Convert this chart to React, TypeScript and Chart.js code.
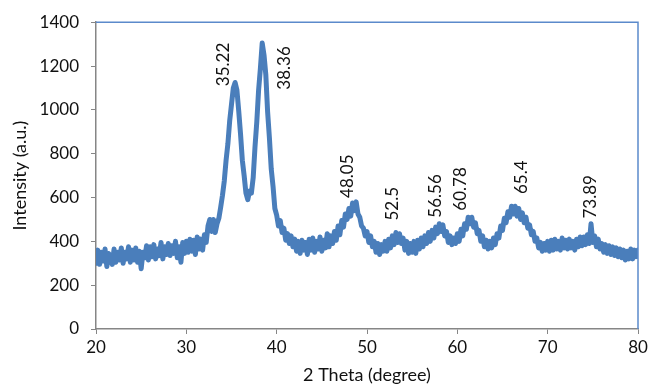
import React, { useEffect, useRef } from "react";
import { Chart, registerables } from "chart.js";

Chart.register(...registerables);

// Sampling grid of the scan (degrees)
const scanStart = 20;
const scanStep = 0.2;

// Intensity readings (a.u.) every 0.2 degree from 20.0 to 80.0
const intensity: number[] = [
  // 20.0 - 21.8
  300, 360, 295, 350, 310, 365, 285, 345, 330, 295,
  // 22.0 - 23.8
  365, 305, 350, 315, 370, 300, 350, 320, 375, 305,
  // 24.0 - 25.8
  360, 315, 370, 305, 355, 275, 350, 325, 380, 315,
  // 26.0 - 27.8
  375, 330, 385, 320, 365, 335, 395, 320, 375, 340,
  // 28.0 - 29.8
  390, 335, 380, 345, 400, 325, 375, 305, 395, 345,
  // 30.0 - 31.8
  400, 350, 410, 355, 405, 340, 420, 365, 410, 360,
  // 32.0 - 33.8
  430, 395, 470, 500, 445, 500, 440, 480, 505, 555,
  // 34.0 - 35.8
  610, 675, 770, 845, 950, 1025, 1100, 1125, 1090, 995,
  // 36.0 - 37.8
  890, 770, 700, 620, 590, 630, 620, 690, 830, 945,
  // 38.0 - 39.8
  1090, 1190, 1305, 1250, 1160, 990, 870, 730, 650, 550,
  // 40.0 - 41.8
  520, 470, 495, 440, 460, 405, 435, 390, 425, 375,
  // 42.0 - 43.8
  410, 355, 400, 345, 405, 360, 395, 340, 410, 360,
  // 44.0 - 45.8
  415, 350, 400, 365, 420, 355, 405, 370, 435, 375,
  // 46.0 - 47.8
  425, 390, 445, 405, 470, 430, 495, 465, 525, 500,
  // 48.0 - 49.8
  550, 515, 575, 540, 580, 525, 510, 470, 460, 425,
  // 50.0 - 51.8
  445, 395, 425, 375, 400, 350, 390, 340, 385, 355,
  // 52.0 - 53.8
  400, 355, 410, 370, 425, 385, 440, 395, 435, 390,
  // 54.0 - 55.8
  415, 360, 400, 345, 390, 350, 400, 345, 405, 365,
  // 56.0 - 57.8
  415, 375, 425, 390, 440, 400, 450, 415, 465, 435,
  // 58.0 - 59.8
  480, 445, 475, 425, 445, 395, 425, 385, 415, 390,
  // 60.0 - 61.8
  435, 400, 455, 425, 480, 455, 510, 480, 510, 465,
  // 62.0 - 63.8
  485, 435, 450, 400, 425, 375, 405, 365, 400, 370,
  // 64.0 - 65.8
  415, 385, 435, 415, 470, 450, 505, 485, 535, 510,
  // 66.0 - 67.8
  560, 525, 560, 515, 550, 500, 530, 485, 510, 460,
  // 68.0 - 69.8
  475, 430, 445, 400, 415, 370, 395, 355, 390, 360,
  // 70.0 - 71.8
  400, 355, 405, 360, 410, 365, 400, 360, 415, 370,
  // 72.0 - 73.8
  405, 365, 410, 370, 400, 360, 410, 375, 420, 380,
  // 74.0 - 75.8
  420, 385, 430, 390, 480, 395, 425, 375, 410, 365,
  // 76.0 - 77.8
  390, 350, 385, 345, 380, 340, 375, 335, 370, 330,
  // 78.0 - 79.8
  365, 325, 360, 315, 355, 320, 365, 320, 360, 330,
  // 80.0
  360,
];

// Peak annotations
const peakLabels = ["35.22", "38.36", "48.05", "52.5", "56.56", "60.78", "65.4", "73.89"];
const peakLabelX = [34.17, 40.92, 47.79, 52.77, 57.53, 60.3, 67.16, 74.69];
const peakLabelY = [1108, 1092, 598, 495, 508, 540, 616, 504];

const xTicks = [20, 30, 40, 50, 60, 70, 80];
const yTicks = [0, 200, 400, 600, 800, 1000, 1200, 1400];

const FONT = "Lato, 'Open Sans', sans-serif";
const LINE_COLOR = "#4A7EBB";
const AXIS_COLOR = "#868686";
const TEXT_COLOR = "#111";

const peakLabelPlugin = {
  id: "peakLabels",
  afterDatasetsDraw(chart: any) {
    const { ctx, scales } = chart;
    const xs = scales.x;
    const ys = scales.y;
    ctx.save();
    ctx.font = `17px ${FONT}`;
    ctx.fillStyle = TEXT_COLOR;
    ctx.textAlign = "left";
    ctx.textBaseline = "middle";
    peakLabels.forEach((t, i) => {
      const px = xs.getPixelForValue(peakLabelX[i]);
      const py = ys.getPixelForValue(peakLabelY[i]);
      ctx.save();
      ctx.translate(px, py);
      ctx.rotate(-Math.PI / 2);
      ctx.fillText(t, 0, 0);
      ctx.restore();
    });
    ctx.restore();
  },
};

const frameTopRightPlugin = {
  id: "frameTopRight",
  afterDraw(chart: any) {
    const { ctx, chartArea } = chart;
    ctx.save();
    ctx.strokeStyle = "#5B8ACB";
    ctx.lineWidth = 1.5;
    ctx.beginPath();
    ctx.moveTo(chartArea.left, chartArea.top);
    ctx.lineTo(chartArea.right, chartArea.top);
    ctx.lineTo(chartArea.right, chartArea.bottom);
    ctx.stroke();
    ctx.restore();
  },
};

export default function App() {
  const canvasRef = useRef<HTMLCanvasElement | null>(null);

  useEffect(() => {
    document.body.style.margin = "0";
    const canvas = canvasRef.current;
    if (!canvas) return;
    const points = intensity.map((v, i) => ({ x: scanStart + i * scanStep, y: v }));
    const chart = new Chart(canvas, {
      type: "line",
      data: {
        datasets: [
          {
            data: points,
            borderColor: LINE_COLOR,
            borderWidth: 5,
            borderJoinStyle: "round",
            borderCapStyle: "round",
            pointRadius: 0,
            tension: 0,
            fill: false,
          },
        ],
      },
      options: {
        animation: false,
        responsive: false,
        maintainAspectRatio: false,
        layout: { padding: { left: 0, right: 13, top: 18, bottom: 0 } },
        plugins: {
          legend: { display: false },
          tooltip: { enabled: false },
        },
        scales: {
          x: {
            type: "linear",
            min: 20,
            max: 80,
            afterBuildTicks: (axis: any) => {
              axis.ticks = xTicks.map((v) => ({ value: v }));
            },
            afterFit: (axis: any) => {
              axis.height = 57;
            },
            grid: {
              drawOnChartArea: false,
              drawTicks: true,
              tickLength: 5,
              color: AXIS_COLOR,
            },
            border: { color: AXIS_COLOR, width: 1.5 },
            ticks: {
              color: TEXT_COLOR,
              font: { family: FONT, size: 17 },
              padding: 3,
              maxRotation: 0,
              callback: (v: any) => String(v),
            },
            title: {
              display: true,
              text: "2 Theta (degree)",
              color: TEXT_COLOR,
              font: { family: FONT, size: 18 },
              padding: { top: 13, bottom: 0 },
            },
          },
          y: {
            type: "linear",
            min: 0,
            max: 1400,
            afterBuildTicks: (axis: any) => {
              axis.ticks = yTicks.map((v) => ({ value: v }));
            },
            afterFit: (axis: any) => {
              axis.width = 96;
            },
            grid: {
              drawOnChartArea: false,
              drawTicks: true,
              tickLength: 5,
              color: AXIS_COLOR,
            },
            border: { color: AXIS_COLOR, width: 1.5 },
            ticks: {
              color: TEXT_COLOR,
              font: { family: FONT, size: 17 },
              padding: 12,
              callback: (v: any) => String(v),
            },
            title: {
              display: true,
              text: "Intensity (a.u.)",
              color: TEXT_COLOR,
              font: { family: FONT, size: 18 },
              padding: { top: 9, bottom: 0 },
            },
          },
        },
      },
      plugins: [peakLabelPlugin, frameTopRightPlugin],
    });
    return () => chart.destroy();
  }, []);

  return (
    <div style={{ position: "absolute", left: 0, top: 0, width: 651, height: 386, background: "#fff" }}>
      <canvas ref={canvasRef} width={651} height={386} />
    </div>
  );
}
